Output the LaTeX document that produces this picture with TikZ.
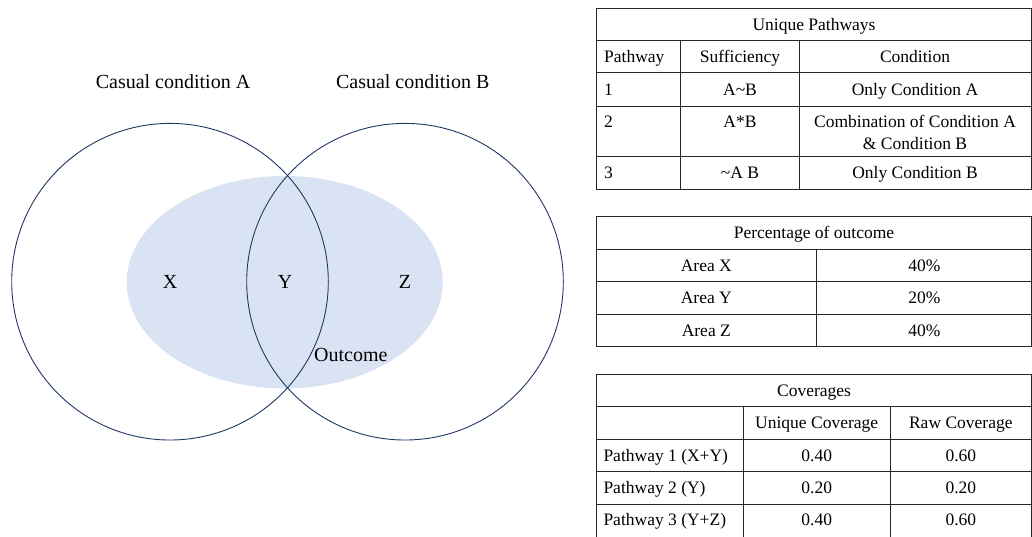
\documentclass[tikz,border=0pt]{standalone}
\usepackage{fontspec}
\setmainfont{Liberation Serif}
\usetikzlibrary{shapes.geometric}
\definecolor{ringblue}{HTML}{1F3864}
\definecolor{outfill}{HTML}{DAE3F3}
\begin{document}
\begin{tikzpicture}[x=1pt,y=-1pt,
  ring/.style={circle, draw=ringblue, line width=0.9pt, minimum size=316.6pt, inner sep=0pt},
  outcome/.style={ellipse, fill=outfill, minimum width=316pt, minimum height=212.4pt, inner sep=0pt},
  vlabel/.style={font=\fontsize{20}{24}\selectfont, inner sep=0pt, text height=13.2pt, text depth=0pt},
  tlabel/.style={font=\fontsize{17.5}{22}\selectfont, inner sep=0pt, text height=11.6pt, text depth=0pt},
  rule/.style={line width=1pt, draw=black!85}]
\clip (0,0) rectangle (1032,536);
\fill[white] (0,0) rectangle (1032,536);

% ---------- Venn diagram ----------
\node[outcome] (O) at (284.7,282.2) {};
\node[ring] (A) at (170,281.7) {};
\node[ring] (B) at (405,281.7) {};
\node[vlabel] (la) at (173,81.7) {Casual condition A};
\node[vlabel] (lb) at (412.7,81.7) {Casual condition B};
\node[vlabel] (x) at (170,282) {X};
\node[vlabel] (y) at (285,282) {Y};
\node[vlabel] (z) at (405,282) {Z};
\node[vlabel, anchor=west] (lo) at (314,355) {Outcome};

% ---------- Table: unique pathways ----------
\draw[rule] (596.7,8.3) rectangle (1031.5,189.3);
\foreach \r in {40.7,72.7,106,156.7} \draw[rule] (596.7,\r) -- (1031.5,\r);
\foreach \c in {680.7,799} \draw[rule] (\c,40.7) -- (\c,189.3);
\node[tlabel] (t1) at (814,24.5) {Unique Pathways};
\node[tlabel, anchor=west] (p0) at (604,56.7) {Pathway};
\node[tlabel] (s0) at (740,56.7) {Sufficiency};
\node[tlabel] (c0) at (915,56.7) {Condition};
\node[tlabel, anchor=west] (p1) at (604,89.3) {1};
\node[tlabel] (s1) at (740,89.3) {A\textasciitilde B};
\node[tlabel] (c1) at (915,89.3) {Only Condition A};
\node[tlabel, anchor=west] (p2) at (604,121.7) {2};
\node[tlabel] (s2) at (740,121.7) {A*B};
\node[tlabel] (c2a) at (915,121.7) {Combination of Condition A};
\node[tlabel] (c2b) at (915,144) {\& Condition B};
\node[tlabel, anchor=west] (p3) at (604,173) {3};
\node[tlabel] (s3) at (740,173) {\textasciitilde A B};
\node[tlabel] (c3) at (915,173) {Only Condition B};

% ---------- Table: percentage of outcome ----------
\draw[rule] (596.7,216) rectangle (1031.5,346.7);
\foreach \r in {249.3,281.7,314.3} \draw[rule] (596.7,\r) -- (1031.5,\r);
\draw[rule] (816,249.3) -- (816,346.7);
\node[tlabel] (t2) at (814,232.7) {Percentage of outcome};
\node[tlabel] (ax) at (706.3,265.5) {Area X};
\node[tlabel] (vx) at (924.5,265.5) {40\%};
\node[tlabel] (ay) at (706.3,298) {Area Y};
\node[tlabel] (vy) at (924.5,298) {20\%};
\node[tlabel] (az) at (706.3,330.5) {Area Z};
\node[tlabel] (vz) at (924.5,330.5) {40\%};

% ---------- Table: coverages (runs past the lower edge) ----------
\draw[rule] (596.7,545) -- (596.7,374.3) -- (1031.5,374.3) -- (1031.5,545);
\foreach \r in {406.7,439,471.7,504} \draw[rule] (596.7,\r) -- (1031.5,\r);
\foreach \c in {743.3,890} \draw[rule] (\c,406.7) -- (\c,545);
\node[tlabel] (t3) at (814,390.5) {Coverages};
\node[tlabel] (uh) at (816.7,422.8) {Unique Coverage};
\node[tlabel] (rh) at (960.8,422.8) {Raw Coverage};
\node[tlabel, anchor=west] (q1) at (603.3,455.3) {Pathway 1 (X+Y)};
\node[tlabel] (u1) at (816.7,455.3) {0.40};
\node[tlabel] (r1) at (960.8,455.3) {0.60};
\node[tlabel, anchor=west] (q2) at (603.3,487.8) {Pathway 2 (Y)};
\node[tlabel] (u2) at (816.7,487.8) {0.20};
\node[tlabel] (r2) at (960.8,487.8) {0.20};
\node[tlabel, anchor=west] (q3) at (603.3,520) {Pathway 3 (Y+Z)};
\node[tlabel] (u3) at (816.7,520) {0.40};
\node[tlabel] (r3) at (960.8,520) {0.60};
\end{tikzpicture}
\end{document}
